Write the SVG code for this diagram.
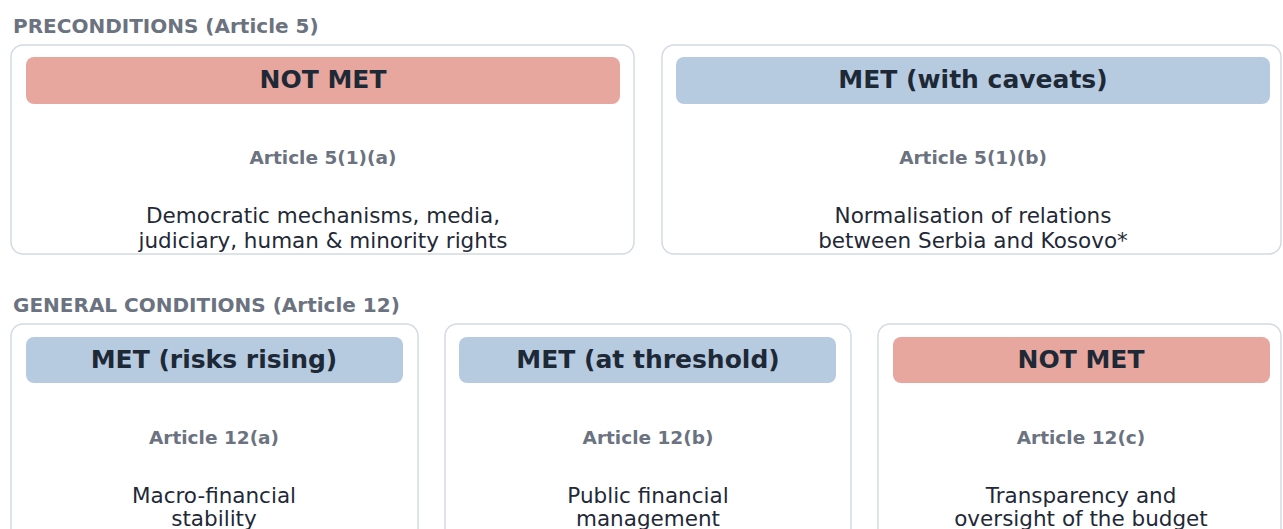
<svg xmlns="http://www.w3.org/2000/svg" width="1283" height="529" viewBox="0 0 1283 529">
  <style>
    text { font-family: "DejaVu Sans", "Liberation Sans", sans-serif; text-anchor: middle; }
    .section { font-size: 20px; font-weight: bold; fill: #6b7280; text-anchor: start; }
    .card { fill: #ffffff; stroke: #d3dae3; stroke-width: 1.5; }
    .bad { fill: #e8a79e; }
    .ok { fill: #b7cbe0; }
    .status { font-size: 25px; font-weight: bold; fill: #1e2937; }
    .article { font-size: 18.5px; font-weight: bold; fill: #6b7280; }
    .desc { font-size: 21.5px; fill: #1f2937; }
  </style>
  <rect width="1283" height="529" fill="#ffffff"/>

  <text class="section" x="13" y="33">PRECONDITIONS (Article 5)</text>
  <text class="section" x="13" y="312">GENERAL CONDITIONS (Article 12)</text>

  <!-- Preconditions -->
  <g id="art5-1a">
    <rect class="card" x="11" y="45" width="623" height="209" rx="12"/>
    <rect class="bad" x="26" y="57" width="594" height="47" rx="8"/>
    <text class="status" x="323" y="88">NOT MET</text>
    <text class="article" x="323" y="164">Article 5(1)(a)</text>
    <text class="desc" x="323" y="223">Democratic mechanisms, media,</text>
    <text class="desc" x="323" y="248">judiciary, human &amp; minority rights</text>
  </g>
  <g id="art5-1b">
    <rect class="card" x="662" y="45" width="619" height="209" rx="12"/>
    <rect class="ok" x="676" y="57" width="594" height="47" rx="8"/>
    <text class="status" x="973" y="88">MET (with caveats)</text>
    <text class="article" x="973" y="164">Article 5(1)(b)</text>
    <text class="desc" x="973" y="223">Normalisation of relations</text>
    <text class="desc" x="973" y="248">between Serbia and Kosovo*</text>
  </g>

  <!-- General conditions -->
  <g id="art12a">
    <rect class="card" x="11" y="324" width="407" height="220" rx="12"/>
    <rect class="ok" x="26" y="337" width="377" height="46" rx="8"/>
    <text class="status" x="214" y="368">MET (risks rising)</text>
    <text class="article" x="214" y="444">Article 12(a)</text>
    <text class="desc" x="214" y="503">Macro-financial</text>
    <text class="desc" x="214" y="526">stability</text>
  </g>
  <g id="art12b">
    <rect class="card" x="445" y="324" width="406" height="220" rx="12"/>
    <rect class="ok" x="459" y="337" width="377" height="46" rx="8"/>
    <text class="status" x="648" y="368">MET (at threshold)</text>
    <text class="article" x="648" y="444">Article 12(b)</text>
    <text class="desc" x="648" y="503">Public financial</text>
    <text class="desc" x="648" y="526">management</text>
  </g>
  <g id="art12c">
    <rect class="card" x="878" y="324" width="403" height="220" rx="12"/>
    <rect class="bad" x="893" y="337" width="377" height="46" rx="8"/>
    <text class="status" x="1081" y="368">NOT MET</text>
    <text class="article" x="1081" y="444">Article 12(c)</text>
    <text class="desc" x="1081" y="503">Transparency and</text>
    <text class="desc" x="1081" y="526">oversight of the budget</text>
  </g>

  <g id="connectors"/>
</svg>
